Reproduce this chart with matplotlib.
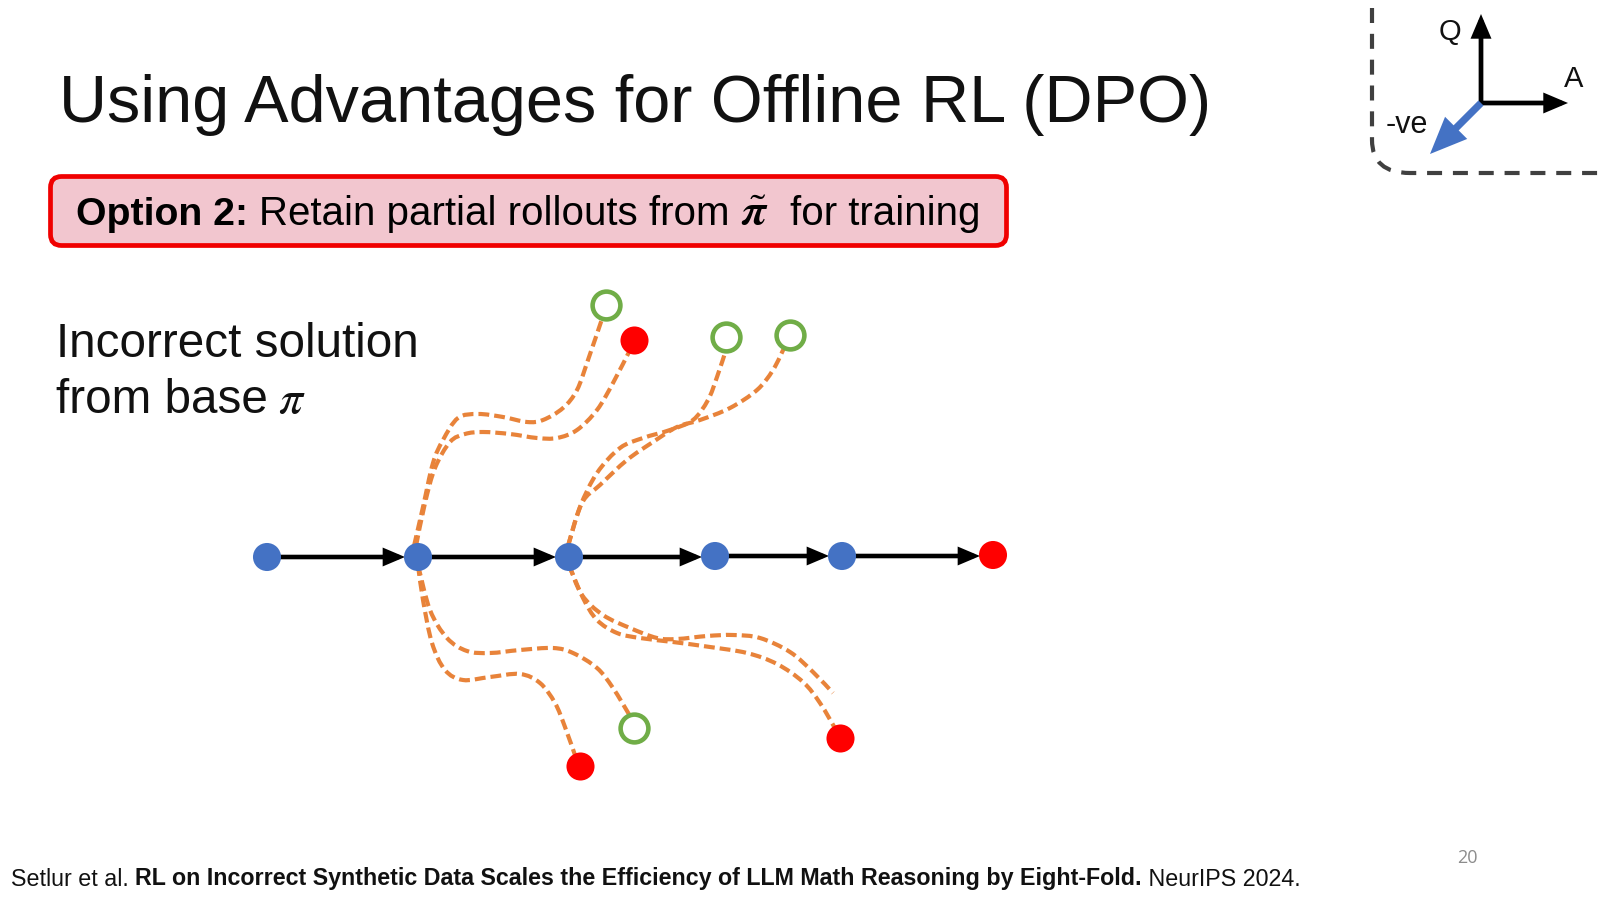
import numpy as np
import matplotlib
matplotlib.use("Agg")
import matplotlib.pyplot as plt
from matplotlib.path import Path
from matplotlib.patches import PathPatch, FancyBboxPatch

FONT = "Liberation Sans"
BLUE, RED, GREEN, ORANGE = "#4472C4", "#FF0000", "#70AD47", "#E8833A"

TITLE = "Using Advantages for Offline RL (DPO)"
CITE = ["Setlur et al. ", "RL on Incorrect Synthetic Data Scales the Efficiency of LLM Math Reasoning by Eight-Fold.", " NeurIPS 2024."]

node_x = [267, 418, 569, 715, 842, 993]
node_y = [557, 557, 557, 556, 556, 555]
node_c = [BLUE, BLUE, BLUE, BLUE, BLUE, RED]

red_x = [634, 580, 840]
red_y = [340, 766, 738]
green_x = [606, 726, 790, 634]
green_y = [305, 337, 335, 728]

curve_a = [(414,546),(423,507),(433,463),(443,440),(458,418),(478,414),(503,417),(527,422),(543,420),(563,408),(577,390),(588,360),(603,316)]
curve_b = [(416,546),(425,503),(435,468),(450,442),(465,434),(483,432),(510,434),(537,438),(557,438),(577,430),(597,410),(613,383),(630,350)]
curve_c = [(568,546),(580,507),(597,473),(620,448),(643,438),(670,430),(693,420),(708,400),(717,377),(726,350)]
curve_d = [(568,546),(582,503),(600,485),(627,460),(653,442),(677,427),(700,420),(730,408),(757,390),(773,370),(785,346)]
curve_e = [(418,565),(430,610),(447,638),(467,651),(490,653),(520,650),(553,648),(573,653),(597,668),(613,688),(630,716)]
curve_f = [(418,565),(423,600),(432,643),(445,670),(463,680),(490,677),(520,674),(540,683),(555,703),(565,727),(576,758)]
curve_g = [(569,565),(582,595),(603,615),(630,628),(657,638),(677,639),(707,636),(733,635),(760,638),(790,652),(813,672),(833,693)]
curve_h = [(569,565),(583,598),(597,620),(617,633),(640,638),(673,642),(710,647),(747,653),(777,664),(803,682),(820,703),(836,730)]
curves = [curve_a, curve_b, curve_c, curve_d, curve_e, curve_f, curve_g, curve_h]

fig = plt.figure(figsize=(16, 9), dpi=100, facecolor="white")
ax = fig.add_axes([0, 0, 1, 1])
ax.set_xlim(0, 1600)
ax.set_ylim(900, 0)
ax.axis("off")


def smooth_path(pts):
    p = np.array(pts, float)
    verts, codes = [p[0]], [Path.MOVETO]
    for i in range(len(p) - 1):
        p0 = p[max(i - 1, 0)]
        p1, p2 = p[i], p[i + 1]
        p3 = p[min(i + 2, len(p) - 1)]
        verts += [p1 + (p2 - p0) / 6, p2 - (p3 - p1) / 6, p2]
        codes += [Path.CURVE4] * 3
    return Path(verts, codes)


def arrow(x0, y0, x1, y1, color="black", lw=3.3, scale=1.0, z=3):
    ax.annotate("", xy=(x1, y1), xytext=(x0, y0), zorder=z,
                arrowprops=dict(arrowstyle=f"-|>,head_length={0.85*scale},head_width={0.36*scale}",
                                color=color, lw=lw, shrinkA=0, shrinkB=0,
                                joinstyle="miter", capstyle="butt",
                                mutation_scale=12))


# Title
ax.text(59, 122, TITLE, fontsize=48, family=FONT, color="#111111", va="baseline", ha="left")

# Option box
ax.add_patch(FancyBboxPatch((50.5, 176.5), 956, 69,
                            boxstyle="round,pad=0,rounding_size=11",
                            fc="#F2C6CF", ec="#F00000", lw=3.4, zorder=2))
ax.text(76, 225, "Option 2:", fontsize=28.3, weight="bold", family=FONT, va="baseline", zorder=3)
ax.text(259, 225, "Retain partial rollouts from", fontsize=29, family=FONT, va="baseline", zorder=3)
ax.text(741, 225, r"$\tilde{\boldsymbol{\pi}}$", fontsize=32, math_fontfamily="stix", va="baseline", zorder=3)
ax.text(790, 225, "for training", fontsize=29, family=FONT, va="baseline", zorder=3)

# Side label
ax.text(56, 357, "Incorrect solution", fontsize=34.3, family=FONT, va="baseline", color="#111111")
ax.text(56, 413, "from base ", fontsize=34.3, family=FONT, va="baseline", color="#111111")
ax.text(278, 413, r"$\pi$", fontsize=34.3, math_fontfamily="stix", va="baseline", color="#111111")

# Dashed rollouts
for c in curves:
    ax.add_patch(PathPatch(smooth_path(c), fill=False, ec=ORANGE, lw=3.0,
                           linestyle=(0, (2.6, 1.2)), zorder=2))

# Main chain
for i in range(len(node_x) - 1):
    arrow(node_x[i] + 12, node_y[i], node_x[i + 1] - 13, node_y[i])
ax.scatter(node_x, node_y, s=408, c=node_c, linewidths=0, zorder=4)
ax.scatter(red_x, red_y, s=408, c=RED, linewidths=0, zorder=4)
ax.scatter(green_x, green_y, s=400, facecolors="white", edgecolors=GREEN, linewidths=3.3, zorder=4)

# Axes inset
inset = Path([(1372, 8), (1372, 140), (1372, 173), (1410, 173), (1600, 173)],
             [Path.MOVETO, Path.LINETO, Path.CURVE3, Path.CURVE3, Path.LINETO])
ax.add_patch(PathPatch(inset, fill=False, ec="#404040", lw=3.0, linestyle=(0, (3.6, 2.6)), zorder=2))
arrow(1481, 104, 1481, 14, lw=3.4, scale=1.15)
arrow(1479, 103, 1568, 103, lw=3.4, scale=1.15)
arrow(1481, 103, 1430, 154, color=BLUE, lw=5.2, scale=1.7)
ax.text(1439, 40, "Q", fontsize=21, family=FONT, va="baseline", color="#111111")
ax.text(1564, 87, "A", fontsize=21, family=FONT, va="baseline", color="#111111")
ax.text(1386, 133, "-ve", fontsize=22, family=FONT, va="baseline", color="#111111")

# Footer
x = 11
r = fig.canvas.get_renderer()
for part, w in zip(CITE, ["normal", "bold", "normal"]):
    t = ax.text(x, 885.5, part, fontsize=16.72, weight=w, family=FONT, va="baseline", color="#111111")
    x = t.get_window_extent(r).x1
ax.text(1457, 863, "20", fontsize=13, family="Open Sans", color="#8C8C8C", va="baseline")

fig.savefig("out.png", dpi=100)
